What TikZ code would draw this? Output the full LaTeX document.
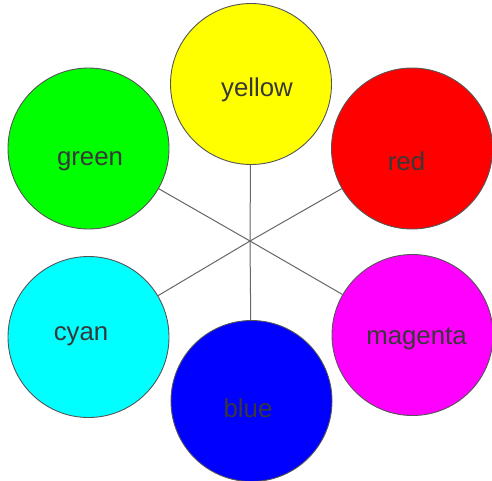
\documentclass[tikz,border=0pt]{standalone}
\usepackage{fontspec}
\setmainfont{Liberation Sans}
\definecolor{edgegray}{HTML}{666666}
\definecolor{bordergray}{HTML}{555555}
\definecolor{txtgray}{HTML}{383838}
\tikzset{
  ball/.style={circle, draw=bordergray, line width=0.9pt, minimum size=161pt, inner sep=0pt},
  spoke/.style={draw=edgegray, line width=1pt},
  lbl/.style={text=txtgray, font=\fontsize{25.8}{30}\selectfont, inner sep=0pt}
}
\begin{document}
\begin{tikzpicture}[x=1pt,y=-1pt]
\useasboundingbox (0,0) rectangle (492,480);
\coordinate (c) at (250,241);
\node[ball, fill={rgb,255:red,255;green,255;blue,0}] (yellow) at (251,84) {};
\node[ball, fill={rgb,255:red,0;green,255;blue,0}] (green) at (88.5,148.5) {};
\node[ball, fill={rgb,255:red,255;green,0;blue,0}] (red) at (412,148.5) {};
\node[ball, fill={rgb,255:red,0;green,255;blue,255}] (cyan) at (88.5,337) {};
\node[ball, fill={rgb,255:red,255;green,0;blue,255}] (magenta) at (412.5,335) {};
\node[ball, fill={rgb,255:red,0;green,0;blue,255}] (blue) at (251.5,401) {};
\foreach \n in {yellow,green,red,cyan,magenta,blue}
  \draw[spoke] (c) -- (\n);
\node[lbl] (tyellow) at (257,90) {yellow};
\node[lbl] (tgreen) at (90,161.5) {green};
\node[lbl] (tred) at (406.5,161.5) {red};
\node[lbl] (tcyan) at (81,336.5) {cyan};
\node[lbl] (tmagenta) at (416.5,338.5) {magenta};
\node[lbl] (tblue) at (248,408) {blue};
\end{tikzpicture}
\end{document}
